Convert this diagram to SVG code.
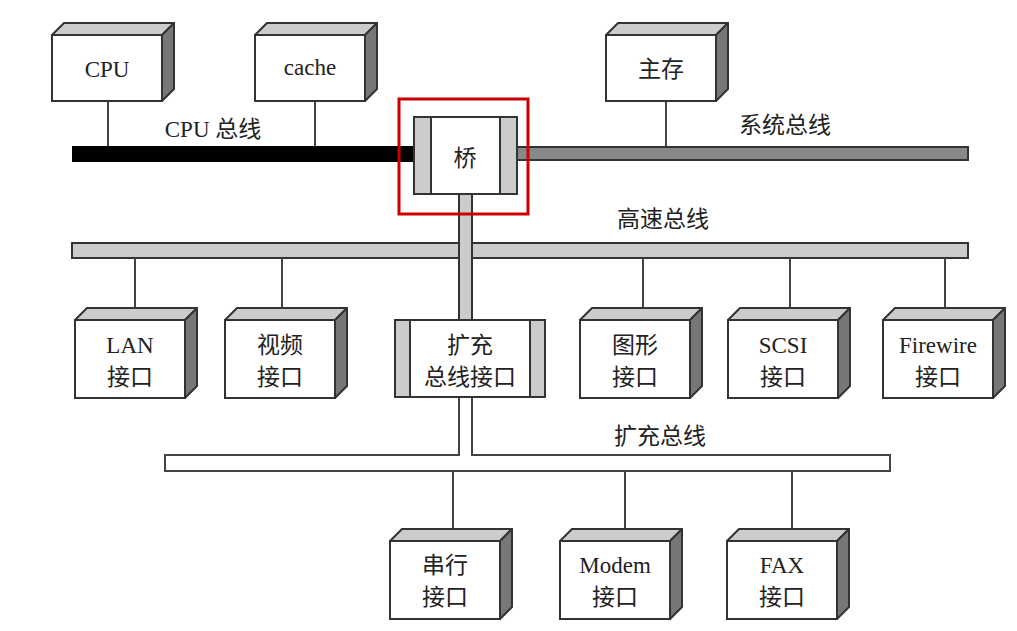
<svg xmlns="http://www.w3.org/2000/svg" width="1017" height="631" viewBox="0 0 1017 631">
<style>
.f{fill:#fff;stroke:#333;stroke-width:2}
.t{fill:#ccc;stroke:#333;stroke-width:2;stroke-linejoin:round}
.s{fill:#777;stroke:#333;stroke-width:2;stroke-linejoin:round}
.l{stroke:#444;stroke-width:2;fill:none}
text{font-family:"Liberation Serif","Noto Sans CJK SC",serif;font-size:23px;fill:#222;text-anchor:middle}
</style>
<defs>
<g id="box">
<polygon class="t" points="0,12 12,0 122,0 110,12"/>
<polygon class="s" points="110,12 122,0 122,66 110,78"/>
<rect class="f" x="0" y="12" width="110" height="66"/>
</g>
<g id="box2">
<polygon class="t" points="0,12 12,0 122,0 110,12"/>
<polygon class="s" points="110,12 122,0 122,78 110,90"/>
<rect class="f" x="0" y="12" width="110" height="78"/>
</g>
</defs>
<rect width="1017" height="631" fill="#fff"/>
<g id="connectors">
<line class="l" x1="108" y1="101" x2="108" y2="147"/>
<line class="l" x1="315" y1="101" x2="315" y2="147"/>
<line class="l" x1="666" y1="101" x2="666" y2="148"/>
<rect x="72" y="146" width="343" height="16" fill="#000"/>
<rect x="517" y="147" width="451" height="13" fill="#888" stroke="#333" stroke-width="2"/>
<rect x="72" y="243" width="896" height="15" fill="#ccc" stroke="#333" stroke-width="2"/>
<rect x="459" y="194" width="13" height="127" fill="#ccc" stroke="#333" stroke-width="2"/>
<rect x="460" y="241" width="11" height="19" fill="#ccc"/>
<line class="l" x1="135" y1="258" x2="135" y2="309"/>
<line class="l" x1="282" y1="258" x2="282" y2="309"/>
<line class="l" x1="643" y1="258" x2="643" y2="309"/>
<line class="l" x1="790" y1="258" x2="790" y2="309"/>
<line class="l" x1="945" y1="258" x2="945" y2="309"/>
<path class="l" d="M459,397 V455 H165 V471 H890 V455 H472 V397" fill="#fff"/>
<line class="l" x1="453" y1="471" x2="453" y2="529"/>
<line class="l" x1="625" y1="471" x2="625" y2="529"/>
<line class="l" x1="792" y1="471" x2="792" y2="529"/>
</g>
<g id="cpu"><use href="#box" x="52" y="23"/><text x="107" y="77">CPU</text></g>
<g id="cache"><use href="#box" x="255" y="23"/><text x="310" y="75">cache</text></g>
<g id="mem"><use href="#box" x="606" y="23"/><text x="661" y="77">主存</text></g>
<g id="bridge">
<rect class="f" x="414" y="117" width="103" height="77"/>
<rect x="414" y="117" width="17" height="77" fill="#ccc" stroke="#333" stroke-width="2"/>
<rect x="500" y="117" width="17" height="77" fill="#ccc" stroke="#333" stroke-width="2"/>
<text x="465" y="166">桥</text>
<rect x="399" y="99" width="129" height="115" fill="none" stroke="#c00" stroke-width="3"/>
</g>
<g id="lan"><use href="#box2" x="75" y="308"/><text x="130" y="353">LAN</text><text x="130" y="385">接口</text></g>
<g id="video"><use href="#box2" x="225" y="308"/><text x="280" y="353">视频</text><text x="280" y="385">接口</text></g>
<g id="ext">
<rect class="f" x="395" y="320" width="150" height="77"/>
<rect x="395" y="320" width="15" height="77" fill="#ccc" stroke="#333" stroke-width="2"/>
<rect x="530" y="320" width="15" height="77" fill="#ccc" stroke="#333" stroke-width="2"/>
<text x="470" y="353">扩充</text><text x="470" y="385">总线接口</text>
</g>
<g id="gfx"><use href="#box2" x="580" y="308"/><text x="635" y="353">图形</text><text x="635" y="385">接口</text></g>
<g id="scsi"><use href="#box2" x="728" y="308"/><text x="783" y="353">SCSI</text><text x="783" y="385">接口</text></g>
<g id="fw"><use href="#box2" x="883" y="308"/><text x="938" y="353">Firewire</text><text x="938" y="385">接口</text></g>
<g id="serial"><use href="#box2" x="390" y="529"/><text x="445" y="573">串行</text><text x="445" y="605">接口</text></g>
<g id="modem"><use href="#box2" x="560" y="529"/><text x="615" y="573">Modem</text><text x="615" y="605">接口</text></g>
<g id="fax"><use href="#box2" x="727" y="529"/><text x="782" y="573">FAX</text><text x="782" y="605">接口</text></g>
<g id="labels">
<text x="213" y="137">CPU 总线</text>
<text x="785" y="133">系统总线</text>
<text x="663" y="227">高速总线</text>
<text x="660" y="444">扩充总线</text>
</g>
</svg>
